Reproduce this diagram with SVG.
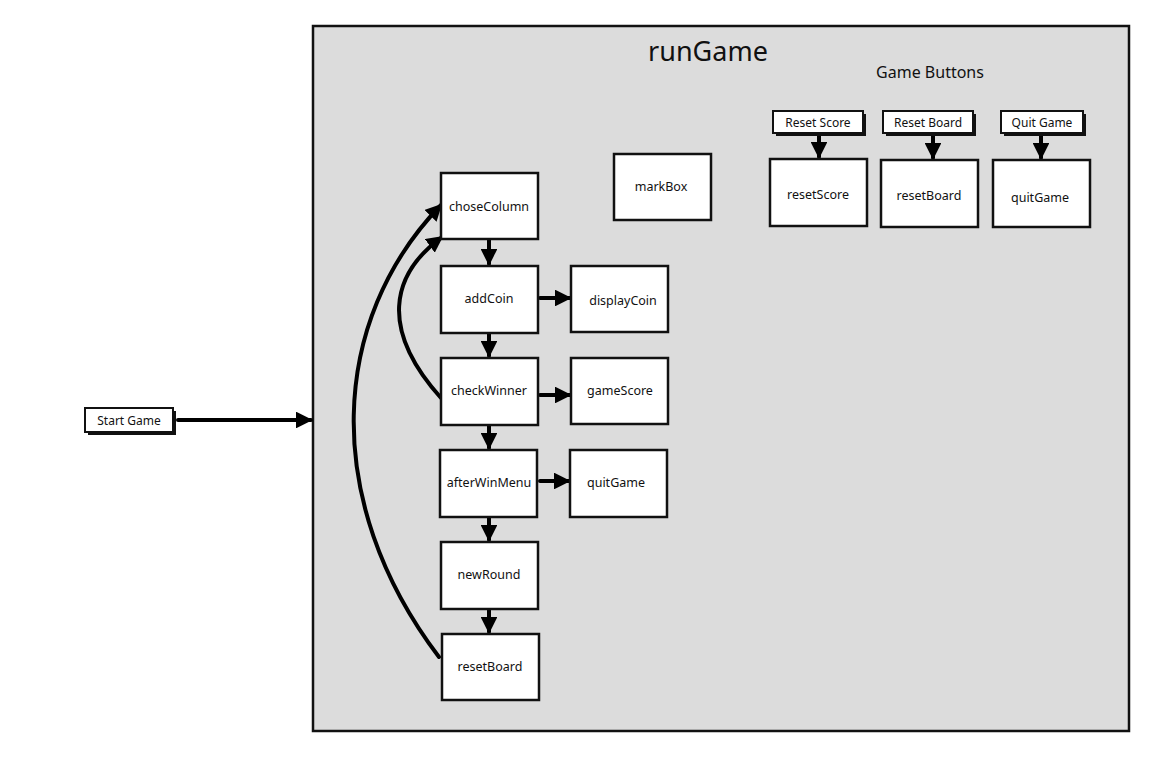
<svg xmlns="http://www.w3.org/2000/svg" width="1174" height="769" viewBox="0 0 1174 769">
<style>
.c{fill:#dcdcdc;stroke:#111;stroke-width:2.5}
.n{fill:#fff;stroke:#111;stroke-width:2.5}
.sh{fill:#111}
.t{font-family:"Noto Sans","Liberation Sans",sans-serif;font-size:12.5px;fill:#111;text-anchor:middle;dominant-baseline:central}
.bt{font-size:12px}
.e{fill:none;stroke:#000;stroke-width:4;stroke-linecap:round}
</style>
<defs>
<marker id="ah" viewBox="0 0 10 10" refX="9" refY="5" markerWidth="4.2" markerHeight="4.2" orient="auto" markerUnits="strokeWidth">
<path d="M0,0 L10,5 L0,10 z" fill="#000"/>
</marker>
</defs>
<rect x="0" y="0" width="1174" height="769" fill="#fff"/>
<g id="runGame">
<rect class="c" x="313" y="26" width="816" height="705"/>
<text class="t" x="708" y="50" style="font-size:27px">runGame</text>
<text class="t" x="930" y="72" style="font-size:16px">Game Buttons</text>
</g>
<g id="connectors">
<path class="e" marker-end="url(#ah)" d="M178,420 L311,420"/>
<path class="e" marker-end="url(#ah)" d="M489,240 L489,264"/>
<path class="e" marker-end="url(#ah)" d="M489,333 L489,356"/>
<path class="e" marker-end="url(#ah)" d="M489,425 L489,448"/>
<path class="e" marker-end="url(#ah)" d="M489,517 L489,540"/>
<path class="e" marker-end="url(#ah)" d="M489,609 L489,632"/>
<path class="e" marker-end="url(#ah)" d="M540,298 L570,298"/>
<path class="e" marker-end="url(#ah)" d="M540,395 L570,395"/>
<path class="e" marker-end="url(#ah)" d="M540,481 L569,481"/>
<path class="e" marker-end="url(#ah)" d="M819,134 L819,157"/>
<path class="e" marker-end="url(#ah)" d="M933,134 L933,158"/>
<path class="e" marker-end="url(#ah)" d="M1041,134 L1041,158"/>
<path class="e" marker-end="url(#ah)" d="M441,398 C380,330 390,275 442,237"/>
<path class="e" marker-end="url(#ah)" d="M439,657 C320,500 330,320 441,205"/>
</g>
<g id="startGame">
<rect class="sh" x="88" y="411" width="88" height="24"/>
<rect class="n" x="85" y="408" width="88" height="24" style="stroke-width:2"/>
<text class="t bt" x="129" y="420">Start Game</text>
</g>
<g id="btnResetScore">
<rect class="sh" x="776" y="114" width="90" height="22"/>
<rect class="n" x="773" y="111" width="90" height="22" style="stroke-width:2"/>
<text class="t bt" x="818" y="122">Reset Score</text>
</g>
<g id="btnResetBoard">
<rect class="sh" x="886" y="114" width="90" height="22"/>
<rect class="n" x="883" y="111" width="90" height="22" style="stroke-width:2"/>
<text class="t bt" x="928" y="122">Reset Board</text>
</g>
<g id="btnQuitGame">
<rect class="sh" x="1004" y="114" width="82" height="22"/>
<rect class="n" x="1001" y="111" width="82" height="22" style="stroke-width:2"/>
<text class="t bt" x="1042" y="122">Quit Game</text>
</g>
<g id="choseColumn"><rect class="n" x="441" y="173" width="97" height="66"/><text class="t" x="489" y="206">choseColumn</text></g>
<g id="addCoin"><rect class="n" x="441" y="266" width="97" height="67"/><text class="t" x="489" y="298">addCoin</text></g>
<g id="checkWinner"><rect class="n" x="441" y="358" width="97" height="67"/><text class="t" x="489" y="390">checkWinner</text></g>
<g id="afterWinMenu"><rect class="n" x="440" y="450" width="97" height="67"/><text class="t" x="489" y="482">afterWinMenu</text></g>
<g id="newRound"><rect class="n" x="441" y="542" width="97" height="67"/><text class="t" x="489" y="574">newRound</text></g>
<g id="resetBoard"><rect class="n" x="442" y="634" width="97" height="66"/><text class="t" x="490" y="666">resetBoard</text></g>
<g id="displayCoin"><rect class="n" x="571" y="266" width="97" height="66"/><text class="t" x="623" y="300">displayCoin</text></g>
<g id="gameScore"><rect class="n" x="571" y="358" width="97" height="66"/><text class="t" x="620" y="390">gameScore</text></g>
<g id="quitGame"><rect class="n" x="570" y="450" width="97" height="67"/><text class="t" x="616" y="482">quitGame</text></g>
<g id="markBox"><rect class="n" x="614" y="154" width="97" height="66"/><text class="t" x="661" y="186">markBox</text></g>
<g id="resetScore"><rect class="n" x="770" y="159" width="97" height="67"/><text class="t" x="818" y="194">resetScore</text></g>
<g id="resetBoard2"><rect class="n" x="881" y="160" width="97" height="67"/><text class="t" x="929" y="195">resetBoard</text></g>
<g id="quitGame2"><rect class="n" x="993" y="160" width="97" height="67"/><text class="t" x="1040" y="197">quitGame</text></g>
</svg>
